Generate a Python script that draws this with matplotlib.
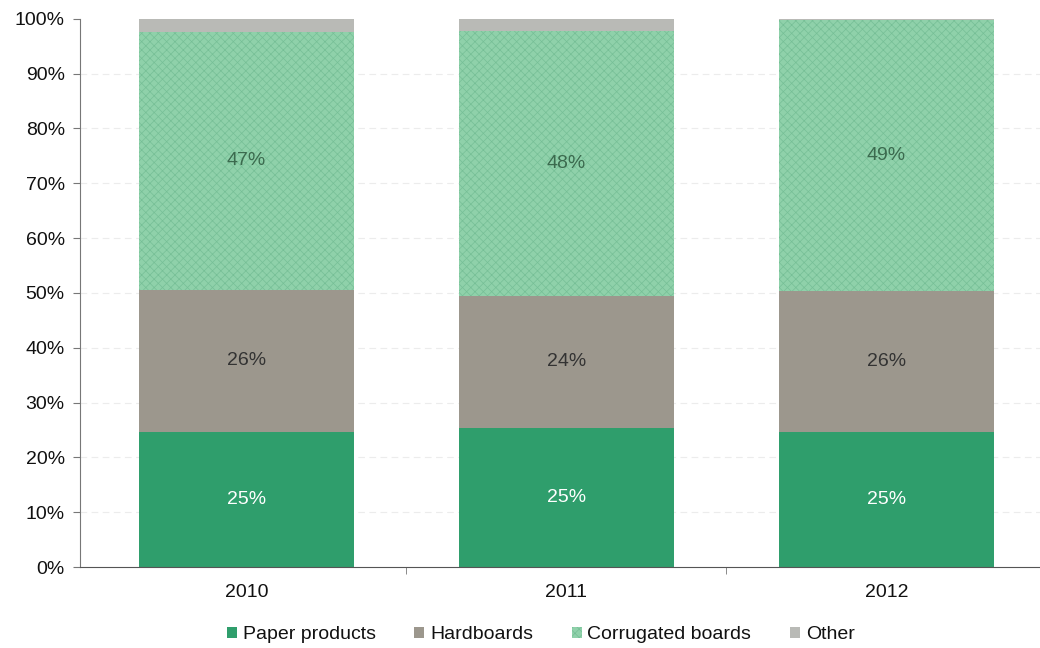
import matplotlib.pyplot as plt
import numpy as np

years = ["2010", "2011", "2012"]
paper_products = [24.6, 25.3, 24.6]
hardboards = [26.0, 24.2, 25.8]
corrugated = [47.0, 48.2, 49.3]
other = [2.4, 2.3, 0.3]

series = [
    ("Paper products", paper_products, "#2f9e6c", "white", None),
    ("Hardboards", hardboards, "#9c978d", "#333333", None),
    ("Corrugated boards", corrugated, "#8fd1aa", "#3b6a4e", "xxxx"),
    ("Other", other, "#b9bab6", None, None),
]

fig = plt.figure(figsize=(10.4, 6.48), dpi=100)
ax = fig.add_axes([0.077, 0.125, 0.923, 0.846])
plt.rcParams["hatch.linewidth"] = 0.5

x = np.arange(len(years))
bottom = np.zeros(len(years))
handles = []
for name, vals, color, txt_color, hatch in series:
    vals = np.array(vals)
    bars = ax.bar(x, vals, width=0.67, bottom=bottom, color=color,
                  edgecolor="#76bf96" if hatch else color, hatch=hatch,
                  linewidth=0, label=name, zorder=2)
    handles.append(bars)
    if txt_color:
        for xi, b, v in zip(x, bottom, vals):
            ax.text(xi, b + v / 2, f"{round(v):.0f}%", ha="center", va="center",
                    color=txt_color, fontsize=14, fontfamily="Liberation Sans", zorder=3)
    bottom += vals

ax.set_ylim(0, 100)
ax.set_xlim(-0.52, 2.48)
ax.set_yticks(np.arange(0, 101, 10))
ax.set_yticklabels([f"{v}%" for v in range(0, 101, 10)], fontsize=14,
                   fontfamily="Liberation Sans", color="#111111")
ax.set_xticks(x)
ax.set_xticklabels(years, fontsize=14, fontfamily="Liberation Sans", color="#111111")
ax.tick_params(axis="x", length=0, pad=12)
ax.set_xticks([0.5, 1.5], minor=True)
ax.tick_params(axis="x", which="minor", length=5, color="#777777")
ax.tick_params(axis="y", length=5, color="#777777", pad=6)

for y in range(10, 100, 10):
    ax.axhline(y, color="#ececec", linestyle=(0, (6, 4)), linewidth=0.8, zorder=1)

for s in ["top", "right"]:
    ax.spines[s].set_visible(False)
ax.spines["left"].set_color("#777777")
ax.spines["bottom"].set_color("#555555")

fig.legend(handles=handles, loc="lower center", bbox_to_anchor=(0.52, -0.02), ncol=4,
           frameon=False, handlelength=0.5, handleheight=0.5, handletextpad=0.3,
           columnspacing=2.0, prop={"family": "Liberation Sans", "size": 14},
           labelcolor="#111111")

fig.savefig("out.png", dpi=100, facecolor="white")
